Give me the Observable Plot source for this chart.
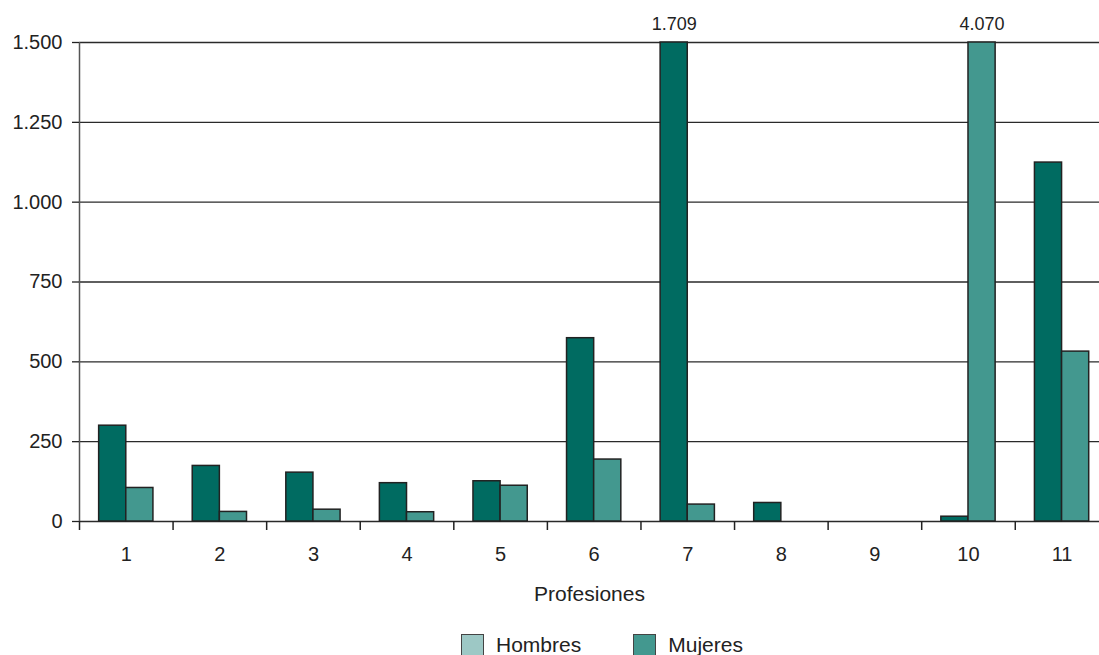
<!DOCTYPE html>
<html><head><meta charset="utf-8">
<script src="https://cdn.jsdelivr.net/npm/d3@7"></script>
<script src="https://cdn.jsdelivr.net/npm/@observablehq/plot@0.6"></script>
<style>
body{margin:0;background:#fff;font-family:"Liberation Sans",Arial,sans-serif;}
#legend{display:flex;align-items:center;padding-left:461px;margin-top:8px;font-size:21px;color:#222;}
.sw{width:21px;height:21px;border:1.5px solid #444;margin-right:12px;box-sizing:content-box}
.item{display:flex;align-items:center;margin-right:52px}
</style></head><body>
<div id="chart"></div>
<div id="legend"></div>
<script>
const categories = [1, 2, 3, 4, 5, 6, 7, 8, 9, 10, 11];
const hombres = [300, 174, 153, 120, 126, 574, 1709, 58, 0, 15, 1124];
const mujeres = [105, 30, 37, 29, 112, 194, 53, 0, 0, 4070, 532];
const series = ["Hombres", "Mujeres"];
const yTicks = [0, 250, 500, 750, 1000, 1250, 1500];
const xLabel = "Profesiones";
const barColors = ["#006b61", "#43988f"];
const legendColors = ["#9dc8c5", "#43988f"];

const yMax = 1500;
const half = 0.29;
const locale = d3.formatLocale({decimal: ",", thousands: ".", grouping: [3], currency: ["", " €"]});
const fmt = locale.format(",");

const rows = categories.flatMap((c, i) => [
  {cat: c, serie: series[0], value: hombres[i]},
  {cat: c, serie: series[1], value: mujeres[i]}
]);
const x1 = d => d.cat + (d.serie === series[0] ? -half : 0);
const x2 = d => d.cat + (d.serie === series[0] ? 0 : half);

const chart = Plot.plot({
  width: 1099,
  height: 625,
  marginLeft: 79,
  marginRight: 0,
  marginTop: 42,
  marginBottom: 104,
  style: {fontFamily: '"Liberation Sans", Arial, sans-serif', color: "#222", background: "#fff"},
  x: {type: "linear", domain: [0.5, 11.4], axis: null},
  y: {domain: [0, yMax], axis: null},
  color: {domain: series, range: barColors},
  marks: [
    Plot.ruleY(yTicks, {stroke: "#2a2a2a", strokeWidth: 1.3}),
    Plot.ruleX([0.5], {y1: 0, y2: yMax, stroke: "#555", strokeWidth: 1.5}),
    Plot.axisY({ticks: yTicks, tickFormat: fmt, tickSize: 7, tickPadding: 10, fontSize: 20, strokeWidth: 1.3, label: null}),
    Plot.axisX({ticks: d3.range(0.5, 11, 1), tickFormat: () => "", tickSize: 9, strokeWidth: 1.5, label: null}),
    Plot.axisX({ticks: categories, tickFormat: d => String(d), tickSize: 0, tickPadding: 25, fontSize: 20, label: null}),
    Plot.rectY(rows.filter(d => d.value > 0), {
      x1, x2, y1: 0, y2: d => Math.min(d.value, yMax),
      fill: "serie", stroke: "#222", strokeWidth: 1.5
    }),
    Plot.text(rows.filter(d => d.value > yMax), {
      x: d => (x1(d) + x2(d)) / 2, y: yMax, text: d => fmt(d.value),
      dy: -18, fontSize: 18, fill: "#222"
    }),
    Plot.text([xLabel], {frameAnchor: "bottom", text: d => d, dy: 79, fontSize: 21, fill: "#222"})
  ]
});
document.getElementById("chart").appendChild(chart);

const legend = document.getElementById("legend");
series.forEach((s, i) => {
  const item = document.createElement("div");
  item.className = "item";
  const sw = document.createElement("div");
  sw.className = "sw";
  sw.style.background = legendColors[i];
  const t = document.createElement("span");
  t.textContent = s;
  item.appendChild(sw);
  item.appendChild(t);
  legend.appendChild(item);
});
</script>
</body></html>
